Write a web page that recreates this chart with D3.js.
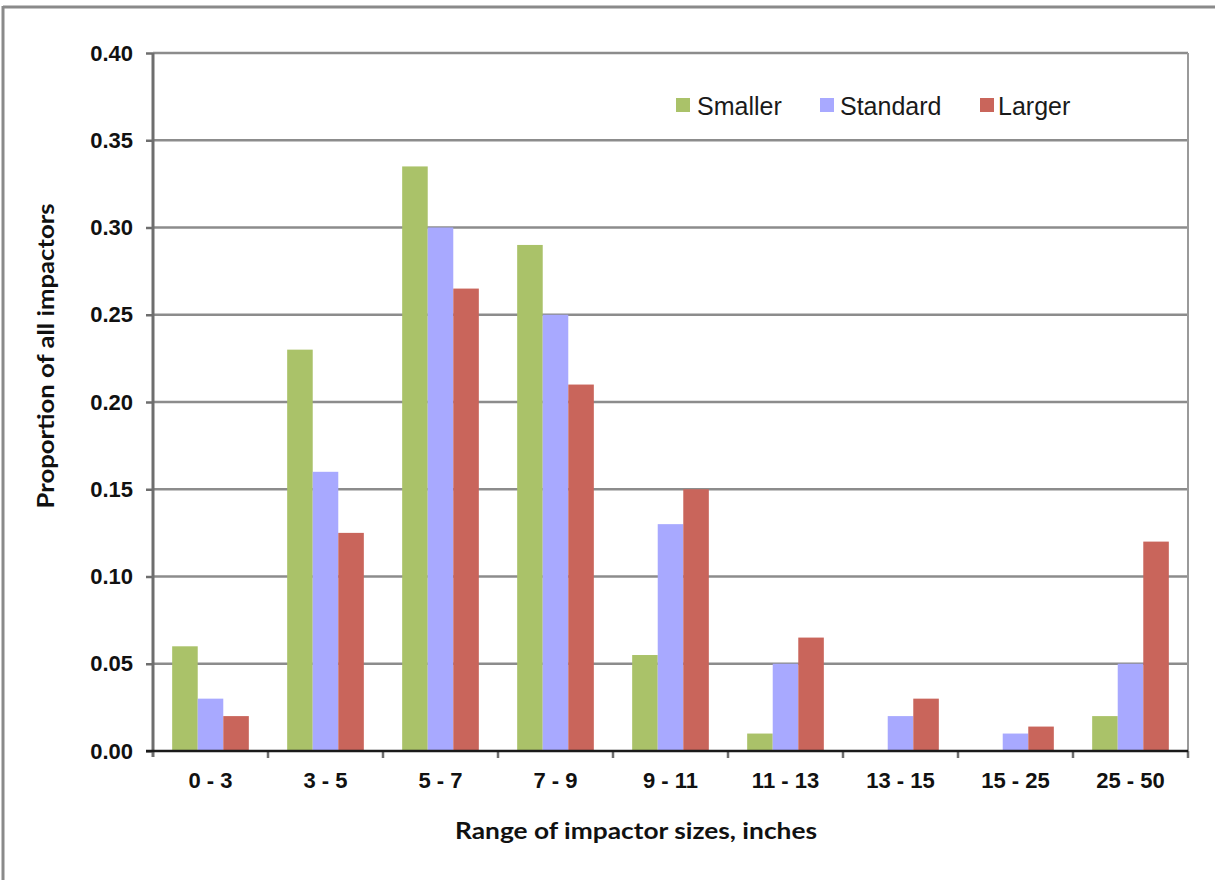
<!DOCTYPE html>
<html>
<head>
<meta charset="utf-8">
<script src="https://cdn.jsdelivr.net/npm/d3@7"></script>
<style>
  html, body { margin: 0; padding: 0; background: #fff; }
  svg { display: block; }
</style>
</head>
<body>
<svg id="chart" width="1215" height="880"></svg>
<script>
// Impactor size ranges and the share of impactors falling in each, per series
const categories = ["0 - 3", "3 - 5", "5 - 7", "7 - 9", "9 - 11", "11 - 13", "13 - 15", "15 - 25", "25 - 50"];
const seriesNames = ["Smaller", "Standard", "Larger"];
const smaller  = [0.06, 0.23, 0.335, 0.29, 0.055, 0.01, 0.0, 0.0, 0.02];
const standard = [0.03, 0.16, 0.30, 0.25, 0.13, 0.05, 0.02, 0.01, 0.05];
const larger   = [0.02, 0.125, 0.265, 0.21, 0.15, 0.065, 0.03, 0.014, 0.12];
const yTicks = [0, 0.05, 0.10, 0.15, 0.20, 0.25, 0.30, 0.35, 0.40];
const colors = ["#aac269", "#a8a9ff", "#c9655b"];

const seriesValues = [smaller, standard, larger];
const rows = categories.map((c, i) => ({
  cat: c,
  values: seriesNames.map((s, k) => ({ series: s, value: seriesValues[k][i] }))
}));

const svg = d3.select("#chart");

// Outer frame (top and left edges)
svg.append("line").attr("x1", 3).attr("x2", 1215).attr("y1", 7).attr("y2", 7)
  .attr("stroke", "#8a8a8a").attr("stroke-width", 3);
svg.append("line").attr("x1", 3).attr("x2", 3).attr("y1", 6).attr("y2", 880)
  .attr("stroke", "#8a8a8a").attr("stroke-width", 3);

const plot = { left: 153, right: 1188, top: 53, bottom: 751 };

const x = d3.scaleBand().domain(categories).range([plot.left, plot.right]).paddingInner(0).paddingOuter(0);
const xs = d3.scaleBand().domain(seriesNames).range([0, x.bandwidth()]).paddingInner(0).paddingOuter(0.75);
const y = d3.scaleLinear().domain([0, 0.4]).range([plot.bottom, plot.top]);

// Horizontal gridlines
svg.append("g").selectAll("line").data(yTicks.filter(t => t > 0)).join("line")
  .attr("x1", plot.left).attr("x2", plot.right)
  .attr("y1", d => y(d)).attr("y2", d => y(d))
  .attr("stroke", "#8c8c8c").attr("stroke-width", 2.5);

// Right edge of plot area
svg.append("line").attr("x1", plot.right).attr("x2", plot.right)
  .attr("y1", plot.top).attr("y2", plot.bottom)
  .attr("stroke", "#9a9a9a").attr("stroke-width", 2);

// Bars
svg.append("g").selectAll("g").data(rows).join("g")
  .attr("transform", d => `translate(${x(d.cat)},0)`)
  .selectAll("rect").data(d => d.values).join("rect")
  .attr("x", d => xs(d.series))
  .attr("width", xs.bandwidth())
  .attr("y", d => y(d.value))
  .attr("height", d => y(0) - y(d.value))
  .attr("fill", (d, i) => colors[i]);

const tickFont = sel => sel.attr("fill", "#111")
  .style("font-family", "'Liberation Sans', Arial, sans-serif")
  .style("font-weight", "bold").style("font-size", "22px");

// Y axis
const yAxis = svg.append("g").attr("transform", `translate(${plot.left},0)`)
  .call(d3.axisLeft(y).tickValues(yTicks).tickFormat(d3.format(".2f")).tickSize(7).tickPadding(13));
yAxis.select(".domain").attr("stroke", "#6e6e6e").attr("stroke-width", 3)
  .attr("d", `M0,${plot.top}V${plot.bottom + 6}`);
yAxis.selectAll(".tick line").attr("stroke", "#6e6e6e").attr("stroke-width", 2.5);
yAxis.selectAll("text").call(tickFont);

// X axis
const xAxis = svg.append("g").attr("transform", `translate(0,${plot.bottom})`)
  .call(d3.axisBottom(x).tickSize(0).tickPadding(21));
xAxis.select(".domain").remove();
xAxis.selectAll("text").call(tickFont);
// Category boundary ticks
const bounds = categories.map(c => x(c)).concat([plot.right]);
svg.append("g").selectAll("line").data(bounds.slice(1)).join("line")
  .attr("x1", d => d).attr("x2", d => d)
  .attr("y1", plot.bottom).attr("y2", plot.bottom + 7)
  .attr("stroke", "#6e6e6e").attr("stroke-width", 2.5);
svg.append("line").attr("x1", plot.left - 7).attr("x2", plot.right)
  .attr("y1", plot.bottom).attr("y2", plot.bottom)
  .attr("stroke", "#1a1a1a").attr("stroke-width", 2.5);

// Legend
const legendItems = [
  { name: seriesNames[0], sx: 676, tx: 697 },
  { name: seriesNames[1], sx: 820, tx: 840 },
  { name: seriesNames[2], sx: 980, tx: 998 }
];
const legend = svg.append("g");
legend.selectAll("rect").data(legendItems).join("rect")
  .attr("x", d => d.sx).attr("y", 98).attr("width", 14).attr("height", 14)
  .attr("fill", (d, i) => colors[i]);
legend.selectAll("text").data(legendItems).join("text")
  .attr("x", d => d.tx).attr("y", 115)
  .attr("fill", "#1a1a1a")
  .style("font-family", "'Liberation Sans', Arial, sans-serif")
  .style("font-size", "25px")
  .text(d => d.name);

// Axis titles
svg.append("text")
  .attr("x", 636).attr("y", 839)
  .attr("text-anchor", "middle")
  .attr("fill", "#111")
  .attr("textLength", 362).attr("lengthAdjust", "spacingAndGlyphs")
  .style("font-family", "Lato, 'Noto Sans', sans-serif")
  .style("font-weight", "bold").style("font-size", "23px")
  .text("Range of impactor sizes, inches");

svg.append("text")
  .attr("transform", "translate(54,356) rotate(-90)")
  .attr("text-anchor", "middle")
  .attr("fill", "#111")
  .attr("textLength", 305).attr("lengthAdjust", "spacingAndGlyphs")
  .style("font-family", "Lato, 'Noto Sans', sans-serif")
  .style("font-weight", "bold").style("font-size", "23px")
  .text("Proportion of all impactors");
</script>
</body>
</html>
